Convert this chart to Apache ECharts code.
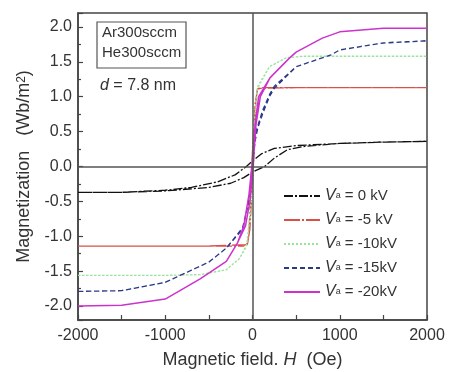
<!DOCTYPE html>
<html>
<head>
<meta charset="utf-8">
<script src="https://cdn.jsdelivr.net/npm/echarts@6/dist/echarts.min.js"></script>
<style>
  html, body { margin: 0; padding: 0; background: #fff; }
  #chart { width: 450px; height: 372px; }
</style>
</head>
<body>
<div id="chart"></div>
<script>
// hysteresis loops, each as ascending branch then descending branch: [H (Oe), M (Wb/m2)]
const loop0Up = [[-2000,-0.37],[-1500,-0.37],[-1000,-0.35],[-500,-0.30],[-250,-0.24],[-100,-0.16],[0,-0.08],[140,0],[250,0.12],[400,0.24],[600,0.29],[1000,0.33],[1500,0.35],[2000,0.36]];
const loop0Down = [[2000,0.36],[1500,0.35],[1000,0.33],[500,0.30],[250,0.26],[100,0.18],[0,0.08],[-70,0],[-200,-0.12],[-400,-0.22],[-700,-0.30],[-1000,-0.34],[-1500,-0.37],[-2000,-0.37]];

const loop5Up = [[-2000,-1.14],[-1500,-1.14],[-1000,-1.14],[-500,-1.14],[-60,-1.12],[-30,-0.9],[10,0],[40,0.95],[55,1.1],[100,1.13],[500,1.13],[1000,1.13],[1500,1.13],[2000,1.13]];
const loop5Down = [[2000,1.13],[1500,1.13],[1000,1.13],[500,1.13],[60,1.12],[30,0.9],[-10,0],[-40,-0.95],[-55,-1.1],[-100,-1.14],[-500,-1.14],[-1000,-1.14],[-1500,-1.14],[-2000,-1.14]];

const loop10Up = [[-2000,-1.56],[-1500,-1.56],[-1000,-1.56],[-600,-1.55],[-300,-1.48],[-150,-1.32],[-60,-1.1],[-10,-0.5],[10,0],[30,0.7],[60,1.15],[194,1.43],[390,1.56],[600,1.58],[1000,1.58],[1500,1.58],[2000,1.58]];
const loop10Down = [[2000,1.58],[1500,1.58],[1000,1.58],[600,1.58],[390,1.56],[194,1.43],[50,1.1],[10,0.5],[-10,0],[-30,-0.7],[-70,-1.15],[-150,-1.32],[-300,-1.48],[-600,-1.55],[-1000,-1.56],[-1500,-1.56],[-2000,-1.56]];

const loop15Up = [[-2000,-1.79],[-1500,-1.78],[-1000,-1.66],[-500,-1.37],[-300,-1.17],[-114,-0.9],[-40,-0.5],[0,0],[20,0.3],[60,0.55],[115,0.75],[194,1.0],[250,1.12],[500,1.43],[900,1.6],[1000,1.67],[1500,1.77],[2000,1.80]];
const loop15Down = [[2000,1.80],[1500,1.77],[1000,1.67],[900,1.6],[500,1.43],[250,1.15],[194,1.03],[115,0.8],[40,0.5],[0,0],[-20,-0.3],[-60,-0.6],[-114,-0.88],[-300,-1.17],[-500,-1.37],[-1000,-1.66],[-1500,-1.78],[-2000,-1.79]];

const loop20Up = [[-2000,-2.0],[-1500,-1.99],[-1000,-1.9],[-600,-1.61],[-300,-1.36],[-170,-1.09],[-100,-0.85],[-40,-0.4],[0,0.1],[30,0.6],[70,1.0],[200,1.27],[420,1.55],[500,1.64],[800,1.84],[1000,1.93],[1500,1.98],[2000,1.98]];
const loop20Down = [[2000,1.98],[1500,1.98],[1000,1.93],[800,1.84],[500,1.64],[420,1.55],[200,1.27],[90,1.0],[40,0.6],[0,-0.1],[-30,-0.5],[-80,-0.85],[-170,-1.09],[-300,-1.36],[-600,-1.61],[-1000,-1.9],[-1500,-1.99],[-2000,-2.0]];

const legendVolts = ["0 kV", "-5 kV", "-10kV", "-15kV", "-20kV"];

const chart = echarts.init(document.getElementById("chart"));
const font = "Liberation Sans, Arial, sans-serif";
const axisColor = "#444";

function loop(idx, up, down, color, dash, width) {
  return {
    name: legendVolts[idx],
    type: "line",
    data: up.concat(down),
    symbol: "none",
    smooth: false,
    lineStyle: { color: color, width: width || 1.3, type: dash },
    itemStyle: { color: color },
    z: 3
  };
}

const series = [
  loop(0, loop0Up, loop0Down, "#111", [9, 2, 2, 2]),
  loop(1, loop5Up, loop5Down, "#d9504a", [16, 2, 2, 2]),
  loop(2, loop10Up, loop10Down, "#9be39b", [2, 2]),
  loop(3, loop15Up, loop15Down, "#2b3a88", [5, 3]),
  loop(4, loop20Up, loop20Down, "#cc33cc", "solid", 1.5)
];

// zero lines through the origin
series[0].markLine = {
  silent: true,
  symbol: "none",
  label: { show: false },
  lineStyle: { color: "#555", width: 1.5, type: "solid" },
  data: [{ xAxis: 0 }, { yAxis: 0 }]
};

chart.setOption({
  animation: false,
  textStyle: { fontFamily: font },
  grid: {
    left: 78, right: 23, top: 13, bottom: 52,
    outerBoundsMode: "none",
    containLabel: false,
    show: true, borderColor: axisColor, borderWidth: 1.5
  },
  xAxis: {
    type: "value",
    min: -2000, max: 2000, interval: 1000,
    axisLine: { show: true, onZero: false, lineStyle: { color: axisColor, width: 1.5 } },
    axisTick: { inside: true, length: 5, lineStyle: { color: axisColor, width: 1.2 } },
    minorTick: { show: true, splitNumber: 2, length: 5, lineStyle: { color: axisColor, width: 1.2 } },
    splitLine: { show: false },
    axisLabel: { color: "#333", fontSize: 16, margin: 8, formatter: (v) => String(v) },
    name: "{n|Magnetic field. }{i|H}{n|  (Oe)}",
    nameLocation: "middle",
    nameGap: 31,
    nameTextStyle: {
      rich: {
        n: { fontSize: 18, color: "#333", fontFamily: font },
        i: { fontSize: 18, color: "#333", fontStyle: "italic", fontFamily: font }
      }
    }
  },
  yAxis: {
    type: "value",
    min: -2.2, max: 2.2, splitNumber: 8,
    axisLine: { show: true, onZero: false, lineStyle: { color: axisColor, width: 1.5 } },
    axisTick: { inside: true, length: 5, lineStyle: { color: axisColor, width: 1.2 } },
    minorTick: { show: true, splitNumber: 2, length: 3, lineStyle: { color: axisColor, width: 1.2 } },
    splitLine: { show: false },
    axisLabel: {
      color: "#333", fontSize: 16, margin: 6,
      showMinLabel: false, showMaxLabel: false,
      formatter: (v) => v.toFixed(1)
    },
    name: "{n|Magnetization   (Wb/m}{s|2}{n|)}",
    nameLocation: "middle",
    nameGap: 44,
    nameTextStyle: {
      rich: {
        n: { fontSize: 18, color: "#333", fontFamily: font },
        s: { fontSize: 12, color: "#333", verticalAlign: "top", lineHeight: 10, fontFamily: font }
      }
    }
  },
  legend: {
    orient: "vertical",
    left: 278, top: 183,
    itemWidth: 36, itemHeight: 12,
    itemGap: 8,
    itemStyle: { opacity: 0 },
    data: legendVolts,
    formatter: (name) => "{v|V}{a|a}{t| = " + name + "}",
    textStyle: {
      color: "#333",
      fontSize: 15,
      rich: {
        v: { fontSize: 16, fontStyle: "italic", color: "#333", fontFamily: font, height: 16 },
        a: { fontSize: 9, color: "#333", verticalAlign: "bottom", height: 16, fontFamily: font },
        t: { fontSize: 15, color: "#333", fontFamily: font, height: 16 }
      }
    }
  },
  graphic: [
    { type: "rect", shape: { x: 97, y: 22, width: 89, height: 46 }, style: { fill: "#fff", stroke: "#555", lineWidth: 1.2 } },
    { type: "text", left: 102, top: 25, style: { text: "Ar300sccm", font: "15px " + font, fill: "#333" } },
    { type: "text", left: 102, top: 45, style: { text: "He300sccm", font: "15px " + font, fill: "#333" } },
    { type: "text", left: 100, top: 78, style: { text: "{i|d}{n| = 7.8 nm}", rich: { i: { font: "italic 16px " + font, fill: "#333" }, n: { font: "16px " + font, fill: "#333" } } } }
  ],
  series: series
});
</script>
</body>
</html>
